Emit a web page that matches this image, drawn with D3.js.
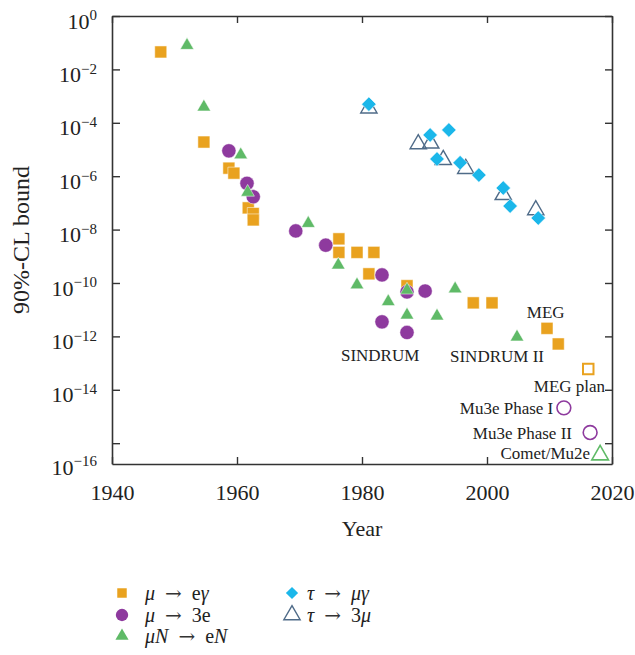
<!DOCTYPE html>
<html>
<head>
<meta charset="utf-8">
<script src="https://cdn.jsdelivr.net/npm/d3@7"></script>
<style>
  html, body { margin: 0; padding: 0; background: #fff; }
  #chart { width: 635px; height: 655px; }
  svg text { font-family: "Liberation Serif", "DejaVu Serif", serif; fill: #222; }
</style>
</head>
<body>
<div id="chart"></div>
<script>
// [year, 90% CL bound]
const muEGamma = [
  [1947.8, 4.5e-2], [1954.7, 1.9e-5], [1958.7, 2.0e-6], [1959.5, 1.3e-6],
  [1961.8, 6.5e-8], [1962.6, 4.0e-8], [1962.6, 2.3e-8], [1976.3, 4.5e-9],
  [1976.3, 1.4e-9], [1979.2, 1.4e-9], [1981.9, 1.4e-9], [1981.1, 2.2e-10],
  [1987.2, 7.9e-11], [1997.8, 1.8e-11], [2000.8, 1.8e-11], [2009.6, 2.0e-12],
  [2011.4, 5.2e-13],
];
const muEGammaPlan = [[2016.2, 6.0e-14]];

const mu3e = [
  [1958.7, 8.9e-6], [1961.6, 5.4e-7], [1962.6, 1.7e-7], [1969.4, 8.9e-9],
  [1974.2, 2.6e-9], [1983.2, 2.0e-10], [1987.2, 4.6e-11], [1990.1, 5.0e-11],
  [1983.2, 3.5e-12], [1987.2, 1.4e-12],
];
const mu3ePlan = [[2012.3, 2.1e-15], [2016.5, 2.5e-16]];

const muNeN = [
  [1952.0, 7.9e-2], [1954.7, 3.9e-4], [1960.6, 6.3e-6], [1961.7, 2.5e-7],
  [1971.4, 1.7e-8], [1976.2, 4.7e-10], [1979.2, 8.5e-11], [1984.2, 2.0e-11],
  [1987.2, 5.4e-11], [1987.2, 6.3e-12], [1992.0, 5.8e-12], [1994.9, 6.0e-11],
  [2004.8, 9.5e-13],
];
const muNeNPlan = [[2018.1, 3.6e-17]];

const tauMuGamma = [
  [1981.1, 5.0e-4], [1990.9, 3.5e-5], [1993.9, 5.4e-5], [1992.0, 4.4e-6],
  [1995.7, 3.2e-6], [1998.7, 1.1e-6], [2002.6, 3.6e-7], [2003.7, 7.6e-8],
  [2008.2, 2.7e-8],
];
const tau3mu = [
  [1981.1, 3.5e-4], [1989.0, 1.6e-5], [1991.0, 1.7e-5], [1993.0, 4.1e-6],
  [1996.6, 1.9e-6], [2002.6, 2.0e-7], [2007.8, 5.4e-8],
];

const xTicks = [1940, 1960, 1980, 2000, 2020];
const yExponents = [0, -2, -4, -6, -8, -10, -12, -14, -16];

// text, year, bound, anchor
const notes = [
  ["SINDRUM", 1982.9, 2.0e-13, "middle"],
  ["SINDRUM II", 2001.6, 1.9e-13, "middle"],
  ["MEG", 2009.4, 8.1e-12, "middle"],
  ["MEG plan", 2018.9, 1.4e-14, "end"],
  ["Mu3e Phase I", 2010.6, 2.1e-15, "end"],
  ["Mu3e Phase II", 2013.6, 2.4e-16, "end"],
  ["Comet/Mu2e", 2016.5, 4.3e-17, "end"],
];

// i = italic, n = upright, a = arrow
const legendLabels = [
  [["μ", "i"], ["\u2002→\u2002", "a"], ["e", "n"], ["γ", "i"]],
  [["μ", "i"], ["\u2002→\u2002", "a"], ["3e", "n"]],
  [["μN", "i"], ["\u2002→\u2002", "a"], ["e", "n"], ["N", "i"]],
  [["τ", "i"], ["\u2002→\u2002", "a"], ["μγ", "i"]],
  [["τ", "i"], ["\u2002→\u2002", "a"], ["3", "n"], ["μ", "i"]],
];

const orange = "#e9a21f";
const purple = "#8e3a9e";
const green = "#5fba67";
const blue = "#1bb7ea";
const slate = "#4f6b88";
const serif = '"Liberation Serif", "DejaVu Serif", serif';

const width = 635;
const height = 655;
const margin = { top: 16, right: 23, bottom: 191, left: 112 };

const svg = d3
  .select("#chart")
  .append("svg")
  .attr("width", width)
  .attr("height", height)
  .attr("viewBox", `0 0 ${width} ${height}`)
  .attr("font-family", serif);

const x = d3
  .scaleLinear()
  .domain([1940, 2020])
  .range([margin.left, width - margin.right]);
const y = d3
  .scaleLog()
  .domain([Math.pow(10, -16.78), 1])
  .range([height - margin.bottom, margin.top]);

const x0 = margin.left;
const x1 = width - margin.right;
const y0 = height - margin.bottom;
const y1 = margin.top;
const yTickVals = yExponents.map((e) => Math.pow(10, e));

function styleAxis(g) {
  g.attr("font-family", serif).attr("font-size", 22);
  g.select(".domain").attr("stroke", "#333").attr("stroke-width", 1.6);
  g.selectAll(".tick line").attr("stroke", "#333").attr("stroke-width", 1.4);
  g.selectAll(".tick text").attr("fill", "#222");
}

// bottom axis with labels
svg
  .append("g")
  .attr("transform", `translate(0,${y0})`)
  .call(
    d3.axisBottom(x).tickValues(xTicks).tickFormat(d3.format("d"))
      .tickSizeInner(-7).tickSizeOuter(0).tickPadding(20),
  )
  .call(styleAxis);

// top axis
svg
  .append("g")
  .attr("transform", `translate(0,${y1})`)
  .call(d3.axisTop(x).tickValues(xTicks).tickFormat("").tickSizeInner(-7).tickSizeOuter(0))
  .call(styleAxis);

// left axis
const leftAxis = svg
  .append("g")
  .attr("transform", `translate(${x0},0)`)
  .call(
    d3.axisLeft(y).tickValues(yTickVals).tickFormat("")
      .tickSizeInner(-8).tickSizeOuter(0).tickPadding(15),
  )
  .call(styleAxis);

// right axis
svg
  .append("g")
  .attr("transform", `translate(${x1},0)`)
  .call(d3.axisRight(y).tickValues(yTickVals).tickFormat("").tickSizeInner(-7).tickSizeOuter(0))
  .call(styleAxis);

// powers of ten as 10^n, the lowest one sits at the frame corner
leftAxis.selectAll(".tick text").each(function (d) {
  const e = Math.round(Math.log10(d));
  const t = d3.select(this).attr("dy", "0.55em").attr("font-size", 22);
  if (e === -16) t.attr("y", y(y.domain()[0]) - y(d) - 2);
  t.append("tspan").text("10");
  t.append("tspan")
    .attr("dy", "-0.55em")
    .attr("font-size", 15)
    .text(e === 0 ? "0" : "\u2212" + Math.abs(e));
});

svg
  .append("text")
  .attr("transform", "translate(29,240) rotate(-90)")
  .attr("text-anchor", "middle")
  .attr("font-size", 24)
  .text("90%-CL bound");

svg
  .append("text")
  .attr("x", (x0 + x1) / 2)
  .attr("y", 536)
  .attr("text-anchor", "middle")
  .attr("font-size", 22)
  .text("Year");

// markers
const sym = (type, size) => d3.symbol().type(type).size(size)();

function drawSeries(data, cls, opts) {
  svg
    .append("g")
    .attr("class", cls)
    .selectAll("path")
    .data(data)
    .join("path")
    .attr("d", sym(opts.type, opts.size))
    .attr("transform", (d) => `translate(${x(d[0])},${y(d[1])})${opts.rotate ? " rotate(45)" : ""}`)
    .attr("fill", opts.fill)
    .attr("stroke", opts.stroke)
    .attr("stroke-width", opts.strokeWidth);
}

drawSeries(muEGamma, "mueg", { type: d3.symbolSquare, size: 144, fill: orange, stroke: "#fff", strokeWidth: 0.5 });
drawSeries(mu3e, "mu3e", { type: d3.symbolCircle, size: 160, fill: purple, stroke: "#fff", strokeWidth: 0.5 });
drawSeries(muNeN, "mune", { type: d3.symbolTriangle, size: 80, fill: green, stroke: "#fff", strokeWidth: 0.5 });
drawSeries(tau3mu, "tau3mu", { type: d3.symbolTriangle, size: 115, fill: "none", stroke: slate, strokeWidth: 1.4 });
drawSeries(tauMuGamma, "taumug", { type: d3.symbolSquare, size: 105, fill: blue, stroke: "#fff", strokeWidth: 0.5, rotate: true });

drawSeries(muEGammaPlan, "mueg-plan", { type: d3.symbolSquare, size: 110, fill: "none", stroke: orange, strokeWidth: 2 });
drawSeries(mu3ePlan, "mu3e-plan", { type: d3.symbolCircle, size: 150, fill: "none", stroke: purple, strokeWidth: 1.6 });
drawSeries(muNeNPlan, "mune-plan", { type: d3.symbolTriangle, size: 120, fill: "none", stroke: green, strokeWidth: 1.6 });

// annotations
svg
  .append("g")
  .selectAll("text")
  .data(notes)
  .join("text")
  .attr("x", (d) => x(d[1]))
  .attr("y", (d) => y(d[2]))
  .attr("dy", "0.35em")
  .attr("text-anchor", (d) => d[3])
  .attr("font-size", 17)
  .text((d) => d[0]);

// legend
const legendMarks = [
  { type: d3.symbolSquare, size: 90, fill: orange, stroke: "none" },
  { type: d3.symbolCircle, size: 120, fill: purple, stroke: "none" },
  { type: d3.symbolTriangle, size: 75, fill: green, stroke: "none" },
  { type: d3.symbolSquare, size: 75, fill: blue, stroke: "none", rotate: true },
  { type: d3.symbolTriangle, size: 115, fill: "none", stroke: slate },
];
const legendPos = [
  [122, 145, 593], [122, 145, 615], [122, 145, 636],
  [292, 307, 593], [292, 307, 615],
];

const legend = svg.append("g").attr("class", "legend");
legendLabels.forEach((parts, i) => {
  const [mx, tx, ly] = legendPos[i];
  const m = legendMarks[i];
  legend
    .append("path")
    .attr("d", sym(m.type, m.size))
    .attr("transform", `translate(${mx},${ly})${m.rotate ? " rotate(45)" : ""}`)
    .attr("fill", m.fill)
    .attr("stroke", m.stroke)
    .attr("stroke-width", 1.4);
  const t = legend
    .append("text")
    .attr("x", tx)
    .attr("y", ly + 6.5)
    .attr("font-size", 20);
  parts.forEach(([s, kind]) => {
    const sp = t.append("tspan").text(s);
    if (kind === "i") sp.attr("font-style", "italic");
    if (kind === "a") sp.style("font-family", '"DejaVu Serif", serif').attr("fill", "#333");
  });
});
</script>
</body>
</html>
